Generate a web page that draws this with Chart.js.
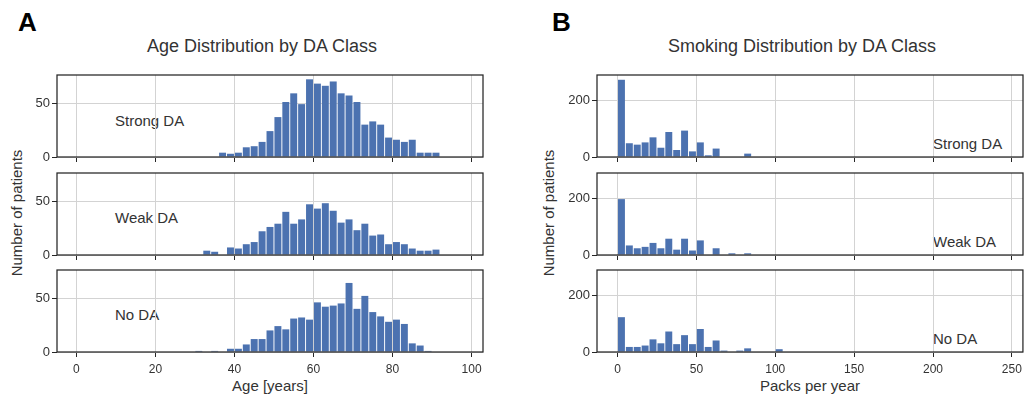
<!DOCTYPE html>
<html><head><meta charset="utf-8">
<script src="https://cdn.jsdelivr.net/npm/chart.js@4.4.0/dist/chart.umd.min.js"></script>
<style>
html,body{margin:0;padding:0;background:#fff;}
body{width:1024px;height:394px;position:relative;overflow:hidden;font-family:"Liberation Sans",Arial,sans-serif;color:#262626;}
canvas{position:absolute;}
.t{position:absolute;line-height:1;white-space:nowrap;transform:translateY(-50%);}
.tc{position:absolute;line-height:1;white-space:nowrap;transform:translate(-50%,-50%);}
.rot{position:absolute;line-height:1;white-space:nowrap;transform:translate(-50%,-50%) rotate(-90deg);}
</style></head><body>
<div class="t" style="left:18px;top:22px;font-size:26px;font-weight:bold;color:#000">A</div>
<div class="t" style="left:552px;top:22px;font-size:26px;font-weight:bold;color:#000">B</div>
<div class="tc" style="left:262px;top:46px;font-size:18px;color:#333">Age Distribution by DA Class</div>
<div class="tc" style="left:802px;top:46px;font-size:18px;color:#333">Smoking Distribution by DA Class</div>
<div class="rot" style="left:16px;top:213px;font-size:15px;color:#333">Number of patients</div>
<div class="rot" style="left:548px;top:213px;font-size:15px;color:#333">Number of patients</div>
<div class="tc" style="left:270px;top:385px;font-size:15px;color:#333">Age [years]</div>
<div class="tc" style="left:810px;top:385px;font-size:15px;color:#333">Packs per year</div>
<div class="t" style="left:115px;top:120px;font-size:15px;color:#333">Strong DA</div>
<div class="t" style="left:115px;top:217px;font-size:15px;color:#333">Weak DA</div>
<div class="t" style="left:115px;top:314px;font-size:15px;color:#333">No DA</div>
<div class="t" style="left:933px;top:143px;font-size:15px;color:#333">Strong DA</div>
<div class="t" style="left:933px;top:241px;font-size:15px;color:#333">Weak DA</div>
<div class="t" style="left:933px;top:338px;font-size:15px;color:#333">No DA</div>
<script>
// ---- data ----
const ageBins = [31,33,35,37,39,41,43,45,47,49,51,53,55,57,59,61,63,65,67,69,71,73,75,77,79,81,83,85,87,89,91];
const ageStrong = [0,0,0,4,3,4,9,10,14,24,37,51,59,49,72,68,66,70,59,57,51,30,33,30,18,16,14,16,4,4,4];
const ageWeak = [0,4,3,0,7,6,10,12,22,26,29,40,29,33,47,43,48,41,30,33,23,29,18,19,10,12,10,6,4,4,5];
const ageNo = [1,0,1,0,3,3,7,12,12,20,24,21,31,32,30,46,42,43,45,64,40,52,37,33,28,30,26,8,6,1,0];
const packBins = [2.5,7.5,12.5,17.5,22.5,27.5,32.5,37.5,42.5,47.5,52.5,57.5,62.5,67.5,72.5,77.5,82.5,87.5,92.5,97.5,102.5];
const packStrong = [275,49,44,52,70,33,89,25,94,20,52,6,30,0,0,0,12,0,0,0,0];
const packWeak = [199,34,24,29,43,24,58,19,58,16,52,0,24,0,6,0,6,0,0,0,0];
const packNo = [124,18,18,23,45,31,73,28,60,28,82,18,41,5,0,5,13,0,0,0,10];
const ageTicks = [0,20,40,60,80,100];
const ageYTicks = [0,50];
const packTicks = [0,50,100,150,200,250];
const packYTicks = [0,200];

Chart.defaults.font.family = '"Liberation Sans", Arial, sans-serif';
const frame = {id:'frame', afterDraw(c){const a=c.chartArea,ctx=c.ctx;ctx.save();ctx.strokeStyle='#262626';ctx.lineWidth=1.25;ctx.strokeRect(a.left,a.top,a.right-a.left,a.bottom-a.top);ctx.restore();}};

const YW=57, PT=12, PR=4, PW=426, PH=82;
function make(plotLeft, plotTop, bins, counts, xmin, xmax, xticks, ymax, yticks, showX){
  const cv=document.createElement('canvas');
  const xH = showX ? 32 : 12;
  const w = YW+PW+PR, h = PT+PH+xH;
  cv.width=w; cv.height=h;
  cv.style.left=(plotLeft-YW)+'px'; cv.style.top=(plotTop-PT)+'px';
  cv.style.width=w+'px'; cv.style.height=h+'px';
  document.body.appendChild(cv);
  new Chart(cv,{
    type:'bar',
    data:{datasets:[{data:bins.map((b,i)=>({x:b,y:counts[i]})),backgroundColor:'#4C72B0',barPercentage:0.88,categoryPercentage:1.0}]},
    options:{
      responsive:false,animation:false,devicePixelRatio:1,
      layout:{padding:{left:0,top:PT,right:PR,bottom:0}},
      plugins:{legend:{display:false},tooltip:{enabled:false}},
      scales:{
        x:{type:'linear',min:xmin,max:xmax,offset:false,
          afterBuildTicks:a=>{a.ticks=xticks.map(v=>({value:v}));},
          afterFit:s=>{s.height=xH;},
          grid:{color:'#d3d3d3',tickColor:'#262626',tickLength:5,offset:false,lineWidth:1},
          border:{display:false},
          ticks:{display:showX,color:'#333',font:{size:12},padding:5,maxRotation:0,autoSkip:false}},
        y:{min:0,max:ymax,
          afterBuildTicks:a=>{a.ticks=yticks.map(v=>({value:v}));},
          afterFit:s=>{s.width=YW;},
          grid:{color:'#d3d3d3',tickColor:'#262626',tickLength:5,lineWidth:1},
          border:{display:false},
          ticks:{color:'#333',font:{size:13},padding:2}}
      }
    },
    plugins:[frame]
  });
}
const tops=[75,173,270];
make(57,tops[0],ageBins,ageStrong,-4.9,102.9,ageTicks,76,ageYTicks,false);
make(57,tops[1],ageBins,ageWeak,-4.9,102.9,ageTicks,76,ageYTicks,false);
make(57,tops[2],ageBins,ageNo,-4.9,102.9,ageTicks,76,ageYTicks,true);
make(597,tops[0],packBins,packStrong,-13,257,packTicks,292,packYTicks,false);
make(597,tops[1],packBins,packWeak,-13,257,packTicks,292,packYTicks,false);
make(597,tops[2],packBins,packNo,-13,257,packTicks,292,packYTicks,true);
</script>
</body></html>
